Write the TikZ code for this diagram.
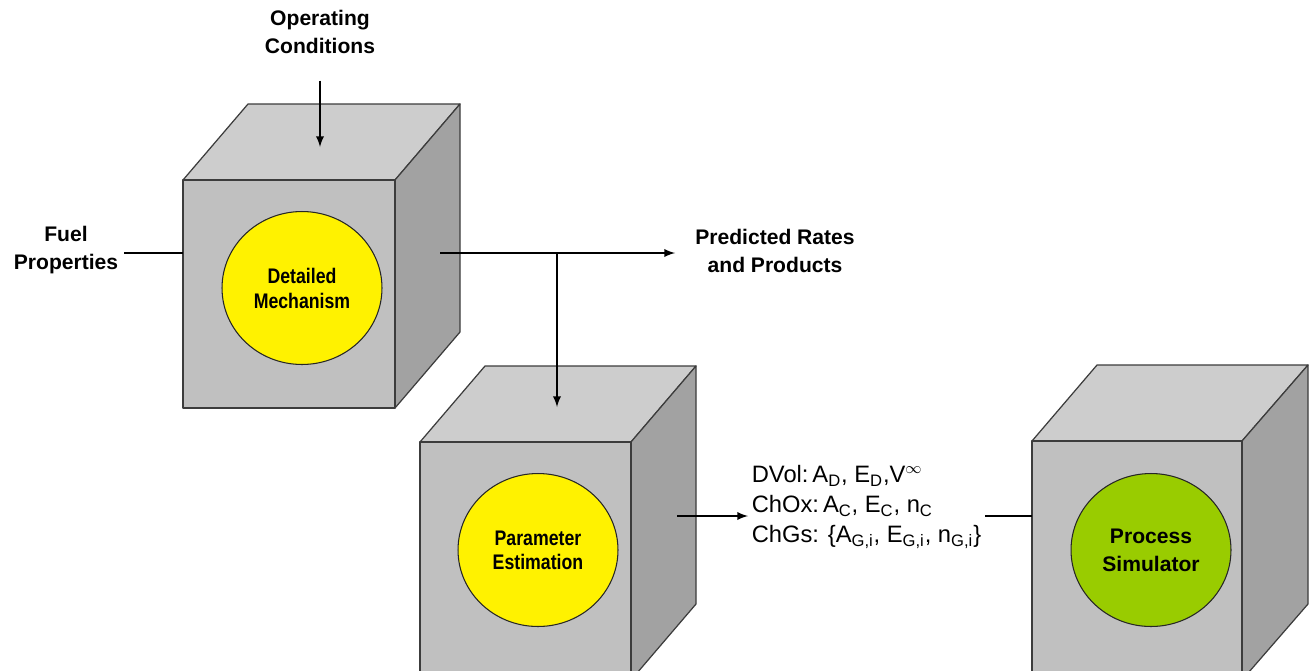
\documentclass[tikz,border=0pt]{standalone}
\usepackage{fontspec}
\setmainfont{Liberation Sans}
\newfontfamily\condensed{Liberation Sans}[FakeStretch=0.84]
\usetikzlibrary{arrows}
\usetikzlibrary{shapes.geometric}
\definecolor{facefront}{RGB}{192,192,192}
\definecolor{facetop}{RGB}{205,205,205}
\definecolor{faceside}{RGB}{162,162,162}
\definecolor{edgegray}{RGB}{60,60,60}
\definecolor{simgreen}{RGB}{153,204,0}

\begin{document}
\begin{tikzpicture}[x=0.02cm, y=-0.02cm,
  face/.style={draw=edgegray, line width=0.7pt, line join=round},
  ball/.style={ellipse, draw=black!85, line width=0.6pt, minimum width=3.2cm, minimum height=3.06cm,
    inner sep=0pt, align=center, font=\condensed\bfseries\fontsize{12}{14.2}\selectfont},
  lbl/.style={align=center, font=\bfseries\fontsize{12}{15.6}\selectfont},
  flow/.style={line width=1.1pt}]
 \clip (0,0) rectangle (1315,670);
 \fill[white] (0,0) rectangle (1315,670);

 %cube 1:
 \filldraw[face, fill=facetop] (183,180) -- (248,104) -- (460,104) -- (395,180) -- cycle;
 \filldraw[face, fill=faceside] (395,180) -- (460,104) -- (460,332) -- (395,408) -- cycle;
 \filldraw[face, fill=facefront] (183,180) rectangle (395,408);

 %cube 2:
 \filldraw[face, fill=facetop] (420,442) -- (485,366) -- (696,366) -- (631,442) -- cycle;
 \filldraw[face, fill=faceside] (631,442) -- (696,366) -- (696,604) -- (631,680) -- cycle;
 \filldraw[face, fill=facefront] (420,442) rectangle (631,680);

 %cube 3:
 \filldraw[face, fill=facetop] (1032,441) -- (1097,365) -- (1308,365) -- (1242,441) -- cycle;
 \filldraw[face, fill=faceside] (1242,441) -- (1308,365) -- (1308,604) -- (1242,680) -- cycle;
 \filldraw[face, fill=facefront] (1032,441) rectangle (1242,680);

 %models:
 \node[ball, fill=yellow] (mech) at (302,288) {Detailed\\Mechanism};
 \node[ball, fill=yellow, font=\condensed\bfseries\fontsize{12}{13.7}\selectfont] (param) at (538,550) {Parameter\\Estimation};
 \node[ball, fill=simgreen, font=\bfseries\fontsize{12}{16}\selectfont] (sim) at (1151,550) {Process\\Simulator};

 %inputs and outputs:
 \node[lbl] (oper) at (320,32) {Operating\\Conditions};
 \node[lbl] (fuel) at (66,250) {Fuel\\Properties};
 \node[lbl] (pred) at (775,251) {Predicted Rates\\and Products};
 \node[anchor=west, align=left, inner sep=2pt, font=\fontsize{13.5}{17}\selectfont] (kin) at (748,507)
  {DVol:\,A\textsubscript{D}, E\textsubscript{D},V\textsuperscript{$\infty$}\\
   ChOx:\,A\textsubscript{C}, E\textsubscript{C}, n\textsubscript{C}\\
   ChGs: \{A\textsubscript{G,i}, E\textsubscript{G,i}, n\textsubscript{G,i}\}};

 \coordinate (opin) at (320,147);
 \coordinate (c1in) at (183,253);
 \coordinate (c1out) at (440,253);
 \coordinate (split) at (557,253);
 \coordinate (c2in) at (557,407);
 \coordinate (c2out) at (677,516);
 \coordinate (c3in) at (1032,516);

 %connectors
 \draw[-latex, flow, shorten <=12pt] (oper.south) -- (opin);
 \draw[flow] (fuel.east |- c1in) -- (c1in);
 \draw[-latex, flow, shorten >=8pt] (c1out) -- (pred.west |- c1out);
 \draw[-latex, flow] (split) -- (c2in);
 \draw[-latex, flow] (c2out) -- (kin.west |- c2out);
 \draw[flow] (kin.east |- c3in) -- (c3in);
\end{tikzpicture}
\end{document}
